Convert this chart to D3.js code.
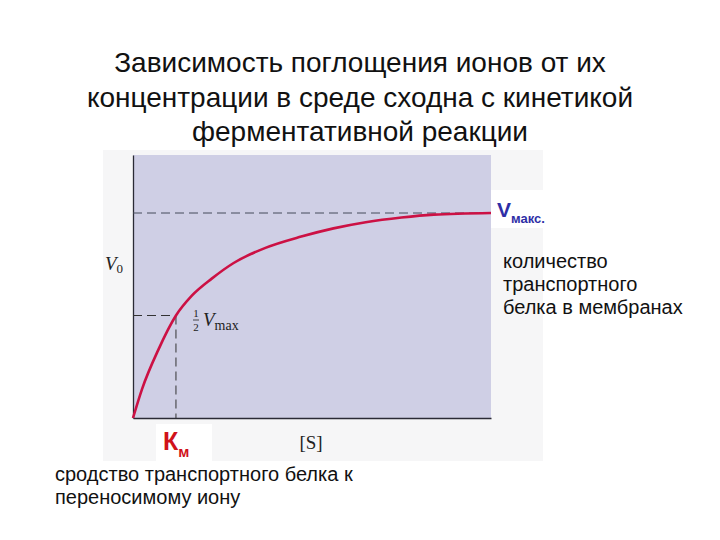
<!DOCTYPE html>
<html>
<head>
<meta charset="utf-8">
<script src="https://cdn.jsdelivr.net/npm/d3@7"></script>
<style>
  body { margin: 0; background: #fff; }
  svg { display: block; }
</style>
</head>
<body>
<script>
// Data
const titleLines = ["Зависимость поглощения ионов от их", "концентрации в среде сходна с кинетикой", "ферментативной реакции"];
const substrate = [0, 0.25, 0.7, 1.2, 1.65, 2.2, 2.8, 3.7, 4.7, 5.6, 6.5, 7.5, 8.4, 10];
const velocity = [0, 0.14, 0.33, 0.5, 0.598, 0.68, 0.755, 0.83, 0.885, 0.925, 0.955, 0.978, 0.992, 1];
const vmax = 1;
const km = 1.2;
const rightNote = ["количество", "транспортного", "белка в мембранах"];
const bottomNote = ["сродство транспортного белка к", "переносимому иону"];

const w = 720;
const h = 540;
const plot = {left: 133, right: 491, top: 155, bottom: 418};

const svg = d3.select("body")
              .append("svg")
              .attr("width", w)
              .attr("height", h);

// Scales
const xScale = d3.scaleLinear()
                 .domain([0, 10])
                 .range([plot.left, plot.right]);

const yScale = d3.scaleLinear()
                 .domain([0, 1.283])
                 .range([plot.bottom, plot.top]);

// Title
svg.append("text")
   .attr("x", 360)
   .attr("font-family", "'Liberation Sans', Arial, sans-serif")
   .attr("font-size", 28)
   .attr("fill", "#111")
   .attr("text-anchor", "middle")
   .selectAll("tspan")
   .data(titleLines)
   .enter()
   .append("tspan")
   .attr("x", 360)
   .attr("y", (d, i) => 72 + i * 34.5)
   .text(d => d);

// picture background + white label patches
svg.append("rect")
   .attr("x", 103).attr("y", 150)
   .attr("width", 440).attr("height", 311)
   .attr("fill", "#f6f6f7");

svg.append("rect")
   .attr("x", plot.left).attr("y", plot.top)
   .attr("width", plot.right - plot.left)
   .attr("height", plot.bottom - plot.top)
   .attr("fill", "#cfcfe5");

svg.append("rect")
   .attr("x", 491).attr("y", 190)
   .attr("width", 70).attr("height", 38)
   .attr("fill", "#fff");

svg.append("rect")
   .attr("x", 156).attr("y", 424)
   .attr("width", 56).attr("height", 37)
   .attr("fill", "#fff");

// Axis lines
const xAxis = d3.axisBottom(xScale).tickValues([]).tickSizeOuter(0);
const yAxis = d3.axisLeft(yScale).tickValues([]).tickSizeOuter(0);

svg.append("g")
   .attr("transform", "translate(0," + plot.bottom + ")")
   .call(xAxis)
   .select(".domain").attr("stroke", "#2a2a35").attr("stroke-width", 1.3);

svg.append("g")
   .attr("transform", "translate(" + plot.left + ",0)")
   .call(yAxis)
   .select(".domain").attr("stroke", "#2a2a35").attr("stroke-width", 1.3);

// dashed guides
const dash = "9,5";
svg.append("line")
   .attr("x1", xScale(0)).attr("x2", xScale(10))
   .attr("y1", yScale(vmax)).attr("y2", yScale(vmax))
   .attr("stroke", "#444a5a").attr("stroke-width", 1).attr("stroke-dasharray", dash);

svg.append("line")
   .attr("x1", xScale(0)).attr("x2", xScale(km))
   .attr("y1", yScale(vmax / 2)).attr("y2", yScale(vmax / 2))
   .attr("stroke", "#333").attr("stroke-width", 1).attr("stroke-dasharray", dash);

svg.append("line")
   .attr("x1", xScale(km)).attr("x2", xScale(km))
   .attr("y1", yScale(vmax / 2)).attr("y2", yScale(0))
   .attr("stroke", "#333").attr("stroke-width", 1).attr("stroke-dasharray", dash);

// curve
const points = substrate.map((s, i) => [s, velocity[i]]);
const line = d3.line()
               .x(d => xScale(d[0]))
               .y(d => yScale(d[1]))
               .curve(d3.curveMonotoneX);

svg.append("path")
   .datum(points)
   .attr("d", line)
   .attr("fill", "none")
   .attr("stroke", "#cc1144")
   .attr("stroke-width", 2.6);

// labels inside the picture
const serif = "'Liberation Serif', 'DejaVu Serif', serif";

const v0 = svg.append("text")
   .attr("x", 105).attr("y", 270)
   .attr("font-family", serif).attr("fill", "#222");
v0.append("tspan").attr("font-size", 19).attr("font-style", "italic").text("V");
v0.append("tspan").attr("font-size", 13).attr("dy", 3).text("0");

// 1/2 Vmax
svg.append("text")
   .attr("x", 196).attr("y", 317)
   .attr("font-family", serif).attr("font-size", 11).attr("fill", "#222")
   .attr("text-anchor", "middle").text("1");
svg.append("line")
   .attr("x1", 193).attr("x2", 199).attr("y1", 320).attr("y2", 320)
   .attr("stroke", "#222").attr("stroke-width", 0.8);
svg.append("text")
   .attr("x", 196).attr("y", 331)
   .attr("font-family", serif).attr("font-size", 11).attr("fill", "#222")
   .attr("text-anchor", "middle").text("2");
const vm = svg.append("text")
   .attr("x", 203).attr("y", 326)
   .attr("font-family", serif).attr("fill", "#222");
vm.append("tspan").attr("font-size", 19).attr("font-style", "italic").text("V");
vm.append("tspan").attr("font-size", 14).attr("dy", 4).text("max");

svg.append("text")
   .attr("x", 311).attr("y", 449)
   .attr("font-family", serif).attr("font-size", 19).attr("fill", "#222")
   .attr("text-anchor", "middle").text("[S]");

// Km
const kmLabel = svg.append("text")
   .attr("x", 163).attr("y", 450)
   .attr("font-family", "'Liberation Sans', Arial, sans-serif")
   .attr("font-weight", "bold").attr("fill", "#d0121a");
kmLabel.append("tspan").attr("font-size", 25).text("К");
kmLabel.append("tspan").attr("font-size", 15).attr("dy", 7).text("м");

// Vmax
const vmaxLabel = svg.append("text")
   .attr("x", 497).attr("y", 217)
   .attr("font-family", "'Liberation Sans', Arial, sans-serif")
   .attr("font-weight", "bold").attr("fill", "#2e2ea6");
vmaxLabel.append("tspan").attr("font-size", 21).text("V");
vmaxLabel.append("tspan").attr("font-size", 13).attr("dy", 6).text("макс.");

// notes
svg.append("g")
   .selectAll("text")
   .data(rightNote)
   .enter()
   .append("text")
   .attr("x", 503)
   .attr("y", (d, i) => 268 + i * 23)
   .attr("font-family", "'Liberation Sans', Arial, sans-serif")
   .attr("font-size", 20)
   .attr("fill", "#111")
   .text(d => d);

svg.append("g")
   .selectAll("text")
   .data(bottomNote)
   .enter()
   .append("text")
   .attr("x", 55)
   .attr("y", (d, i) => 481 + i * 23)
   .attr("font-family", "'Liberation Sans', Arial, sans-serif")
   .attr("font-size", 20)
   .attr("fill", "#111")
   .text(d => d);
</script>
</body>
</html>
